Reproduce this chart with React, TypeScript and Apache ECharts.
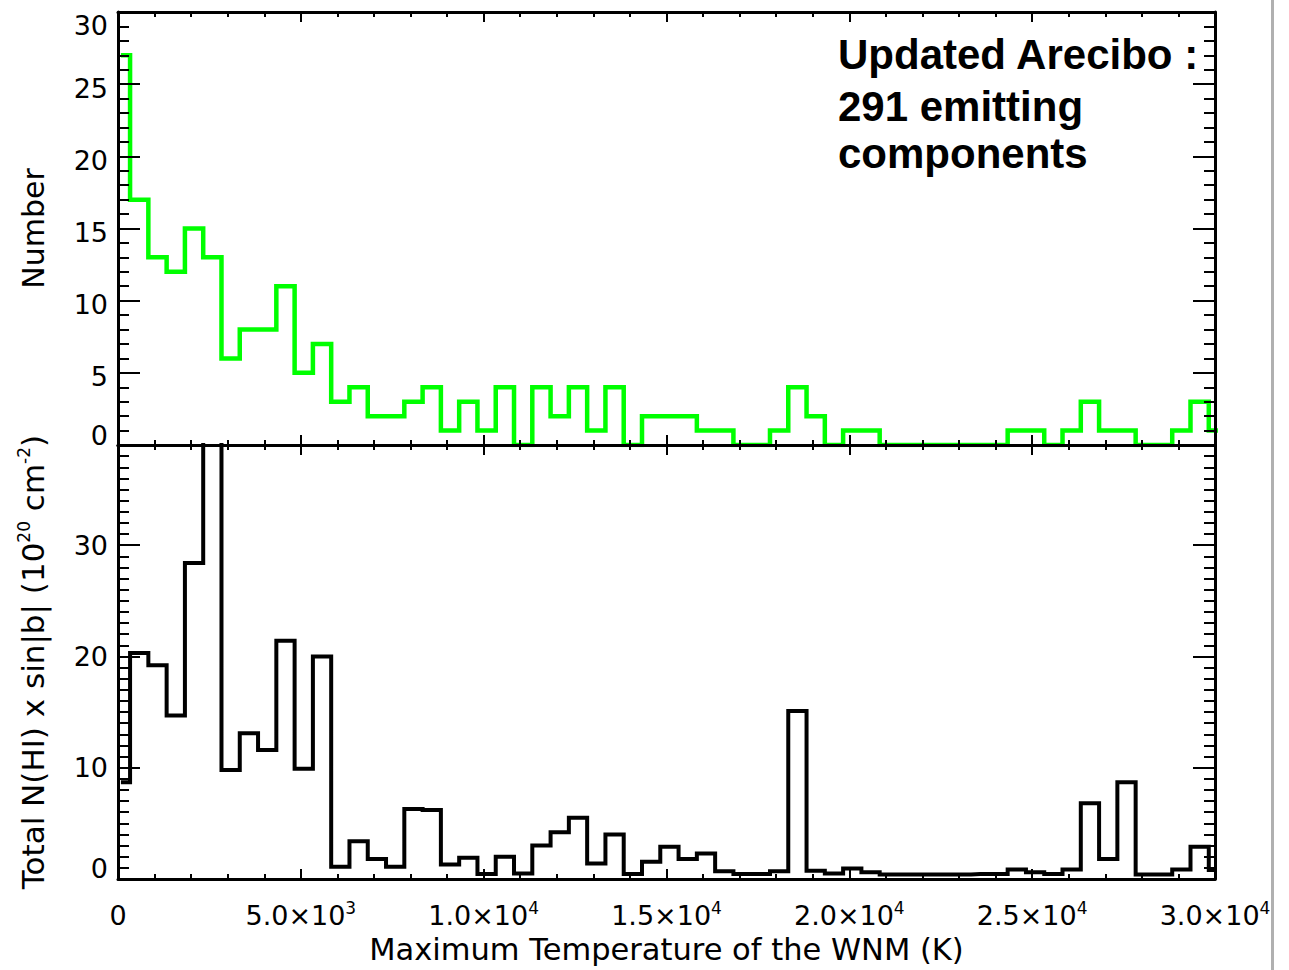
import React, { useEffect, useRef } from "react";
import * as echarts from "echarts";

// Histogram binning of the maximum WNM temperature (K)
const BIN_WIDTH = 500;
const FIRST_BIN_CENTER = 80;

// Number of emitting components per temperature bin
const componentCounts = [
  27, 17, 13, 12, 15, 13, 6, 8, 8, 11, 5, 7, 3, 4, 2, 2, 3, 4, 1, 3, 1, 4, 0, 4, 2,
  4, 1, 4, 0, 2, 2, 2, 1, 1, 0, 0, 1, 4, 2, 0, 1, 1, 0, 0, 0, 0, 0, 0, 0, 1, 1, 0,
  1, 3, 1, 1, 0, 0, 1, 3, 1,
];

// Total N(HI) x sin|b| per temperature bin (10^20 cm^-2)
const columnDensity = [
  8.7, 20.3, 19.2, 14.7, 28.4, 46, 9.8, 13.1, 11.6, 21.4, 9.9, 20.0, 1.1, 3.4, 1.8,
  1.1, 6.3, 6.2, 1.3, 1.9, 0.45, 2.0, 0.5, 3.0, 4.2, 5.5, 1.4, 4.0, 0.45, 1.55, 2.9,
  1.8, 2.3, 0.7, 0.45, 0.45, 0.7, 15.1, 0.75, 0.5, 0.95, 0.6, 0.4, 0.4, 0.4, 0.4,
  0.4, 0.45, 0.45, 0.85, 0.6, 0.45, 0.85, 6.8, 1.8, 8.7, 0.4, 0.4, 0.85, 2.9, 0.8,
];

const binCenters = componentCounts.map((_, i) => FIRST_BIN_CENTER + i * BIN_WIDTH);

const X_MIN = 0;
const X_MAX = 30000;
const X_STEP = 5000;
const TOP_Y_MAX = 30;
const TOP_Y_STEP = 5;
const BOTTOM_Y_MAX = 39;
const BOTTOM_Y_STEP = 10;

const annotationLines = ["Updated Arecibo :", "291 emitting", "components"];

const FONT = "DejaVu Sans";
const INK = "#000000";

const baseText = (size: number, extra: Record<string, unknown> = {}) => ({
  fontSize: size,
  fontFamily: FONT,
  color: INK,
  ...extra,
});

function formatTemperature(v: number): string {
  if (v === 0) return "{b|0}";
  const e = Math.floor(Math.log10(v) + 1e-9);
  const m = (v / Math.pow(10, e)).toFixed(1);
  return `{b|${m}×10}{s|${e}}`;
}

export default function App() {
  const ref = useRef<HTMLDivElement>(null);

  useEffect(() => {
    if (!ref.current) return;
    const chart = echarts.init(ref.current, undefined, { renderer: "svg" });

    const frameLine = { show: true, onZero: false, lineStyle: { color: INK, width: 3 } };
    const tickStyle = { color: INK, width: 2 };

    const xAxisBase = (gridIndex: number, position: "top" | "bottom", labels: boolean) => ({
      type: "value" as const,
      gridIndex,
      position,
      min: X_MIN,
      max: X_MAX,
      interval: X_STEP,
      z: 4,
      axisLine: frameLine,
      axisTick: { show: true, inside: true, length: 10, lineStyle: tickStyle },
      minorTick: { show: true, splitNumber: 5, length: 5, lineStyle: tickStyle },
      splitLine: { show: false },
      minorSplitLine: { show: false },
      axisLabel: labels
        ? {
            show: true,
            margin: 20,
            formatter: formatTemperature,
            rich: {
              b: baseText(27, { lineHeight: 32 }),
              s: baseText(17, { lineHeight: 17, verticalAlign: "top" }),
            },
          }
        : { show: false },
    });

    const xAxes = [
      xAxisBase(0, "bottom", false),
      xAxisBase(0, "top", false),
      {
        ...xAxisBase(1, "bottom", true),
        name: "Maximum Temperature of the WNM (K)",
        nameLocation: "middle",
        nameGap: 52,
        nameTextStyle: baseText(30.5, { lineHeight: 36 }),
      },
      xAxisBase(1, "top", false),
    ];

    const topLabel = (v: number) => {
      if (v === TOP_Y_MAX) return `{hi|${v}}`;
      if (v === 0) return `{lo|${v}}`;
      return `{n|${v}}`;
    };
    const bottomLabel = (v: number) => {
      if (v === 0) return `{lo|${v}}`;
      if (v % BOTTOM_Y_STEP !== 0) return "";
      return `{n|${v}}`;
    };

    const yFrame = (
      gridIndex: number,
      position: "left" | "right",
      max: number,
      interval: number,
      minorSplit: number
    ) => ({
      type: "value" as const,
      gridIndex,
      position,
      min: 0,
      max,
      interval,
      z: 4,
      axisLine: frameLine,
      axisTick: { show: true, inside: true, length: 22, lineStyle: tickStyle },
      minorTick: { show: true, splitNumber: minorSplit, length: 11, lineStyle: tickStyle },
      splitLine: { show: false },
      minorSplitLine: { show: false },
      axisLabel: { show: false },
    });

    const yAxes = [
      // upper panel, left
      {
        ...yFrame(0, "left", TOP_Y_MAX, TOP_Y_STEP, 5),
        axisLabel: {
          show: true,
          margin: 10,
          formatter: topLabel,
          rich: {
            n: baseText(27, { padding: [8, 0, 0, 0] }),
            hi: baseText(27, { padding: [26, 0, 0, 0] }),
            lo: baseText(27, { padding: [0, 0, 20, 0] }),
          },
        },
        name: "Number",
        nameLocation: "middle",
        nameRotate: 90,
        nameGap: 67,
        nameTextStyle: baseText(30, { lineHeight: 36 }),
      },
      // upper panel, right
      yFrame(0, "right", TOP_Y_MAX, TOP_Y_STEP, 5),
      // lower panel, left
      {
        ...yFrame(1, "left", BOTTOM_Y_MAX, BOTTOM_Y_STEP, 10),
        axisLabel: {
          show: true,
          margin: 10,
          formatter: bottomLabel,
          rich: {
            n: baseText(27),
            lo: baseText(27, { padding: [0, 0, 22, 0] }),
          },
        },
        name: "Total N(HI) x sin|b| (10{s|20} cm{s|-2})",
        nameLocation: "middle",
        nameRotate: 90,
        nameGap: 67,
        nameTextStyle: {
          ...baseText(31, { lineHeight: 36 }),
          rich: {
            s: baseText(17, { lineHeight: 17, verticalAlign: "top" }),
          },
        },
      },
      // lower panel, right
      yFrame(1, "right", BOTTOM_Y_MAX, BOTTOM_Y_STEP, 10),
    ];

    const annotation = annotationLines.map((line, i) => ({
      type: "text",
      left: 838,
      top: [33, 85, 132][i],
      z: 20,
      style: {
        text: line,
        font: "bold 42px 'Liberation Sans', Arial, sans-serif",
        fill: INK,
      },
    }));

    chart.setOption({
      animation: false,
      backgroundColor: "#ffffff",
      grid: [
        { left: 118, top: 12, width: 1097, height: 433, containLabel: false },
        { left: 118, top: 445, width: 1097, height: 434, containLabel: false },
      ],
      xAxis: xAxes,
      yAxis: yAxes,
      series: [
        {
          name: "Number",
          type: "line",
          xAxisIndex: 0,
          yAxisIndex: 0,
          step: "middle",
          symbol: "none",
          clip: true,
          lineStyle: { color: "#00ff00", width: 4.5, join: "miter", cap: "butt" },
          data: binCenters.map((c, i) => [c, componentCounts[i]]),
        },
        {
          name: "Total N(HI)",
          type: "line",
          xAxisIndex: 2,
          yAxisIndex: 2,
          step: "middle",
          symbol: "none",
          clip: true,
          lineStyle: { color: INK, width: 4, join: "miter", cap: "butt" },
          data: binCenters.map((c, i) => [c, columnDensity[i]]),
        },
      ],
      graphic: [
        ...annotation,
        {
          type: "rect",
          z: 30,
          shape: { x: 1271, y: 0, width: 3, height: 970 },
          style: { fill: "#b0b0b0" },
        },
      ],
    });

    return () => chart.dispose();
  }, []);

  return (
    <div
      ref={ref}
      style={{
        position: "absolute",
        left: 0,
        top: 0,
        width: 1289,
        height: 970,
        background: "#ffffff",
      }}
    />
  );
}
